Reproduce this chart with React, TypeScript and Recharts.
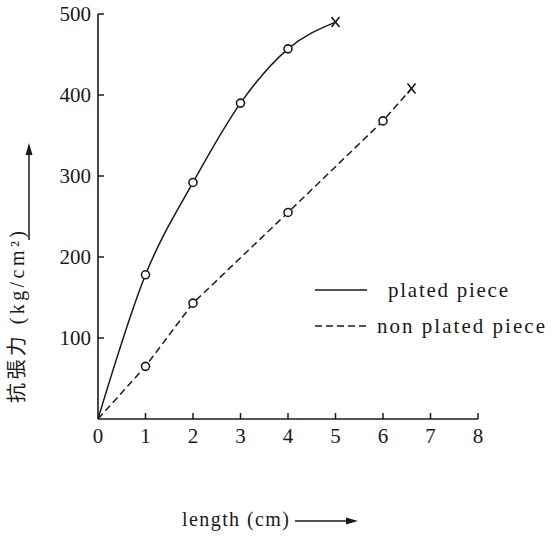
import { Legend, Line, LineChart, XAxis, YAxis } from "recharts"

// length (cm) vs tensile strength (kg/cm²)
const platedX = [0, 1, 2, 3, 4, 5]
const platedY = [0, 178, 292, 390, 457, 490]
const nonPlatedX = [0, 1, 2, 4, 6, 6.6]
const nonPlatedY = [0, 65, 143, 255, 368, 408]

const xTicks = [0, 1, 2, 3, 4, 5, 6, 7, 8]
const yTicks = [100, 200, 300, 400, 500]

const plated = platedX.map((x, i) => ({ x, y: platedY[i] }))
const nonPlated = nonPlatedX.map((x, i) => ({ x, y: nonPlatedY[i] }))

const INK = "#1a1a1a"
const serif = { fontFamily: "Liberation Serif" }
const cjk = { fontFamily: "Noto Sans CJK JP" }

function Marker(props: any) {
  const { cx, cy, index, points } = props
  const last = points ? points.length - 1 : -1
  if (index === 0 || cx == null) return <g key={index} />
  if (index === last) {
    return (
      <g key={index} stroke={INK} strokeWidth={1.6}>
        <line x1={cx - 4} y1={cy - 5} x2={cx + 4} y2={cy + 5} />
        <line x1={cx + 4} y1={cy - 5} x2={cx - 4} y2={cy + 5} />
      </g>
    )
  }
  return <circle key={index} cx={cx} cy={cy} r={4} fill="#fff" stroke={INK} strokeWidth={1.6} />
}

function YTick({ x, y, payload }: any) {
  return (
    <g>
      <line x1={x} y1={y} x2={x + 6} y2={y} stroke={INK} strokeWidth={1.5} />
      <text x={x - 7} y={y} dy="0.35em" textAnchor="end" fontSize={21} fill={INK} style={serif}>
        {payload.value}
      </text>
    </g>
  )
}

function XTick({ x, y, payload }: any) {
  return (
    <g>
      {payload.value > 0 && (
        <line x1={x} y1={y} x2={x} y2={y - 6} stroke={INK} strokeWidth={1.5} />
      )}
      <text x={x} y={y + 24} textAnchor="middle" fontSize={21} fill={INK} style={serif}>
        {payload.value}
      </text>
    </g>
  )
}

function YLabel() {
  return (
    <g>
      <text
        transform="translate(24, 317) rotate(-90)"
        textAnchor="middle"
        fontSize={20}
        fill={INK}
        textLength={172}
        lengthAdjust="spacing"
      >
        <tspan style={cjk}>抗張力</tspan>
        <tspan style={serif}> (kg/cm²)</tspan>
      </text>
      <line x1={29} y1={240} x2={29} y2={150} stroke={INK} strokeWidth={1.5} />
      <polygon points="29,143 25.5,155 32.5,155" fill={INK} />
    </g>
  )
}

function XLabel() {
  return (
    <g>
      <text x={182} y={526} fontSize={20} fill={INK} style={serif} textLength={107} lengthAdjust="spacing">
        length (cm)
      </text>
      <line x1={295} y1={521} x2={350} y2={521} stroke={INK} strokeWidth={1.5} />
      <polygon points="358,521 346,517.5 346,524.5" fill={INK} />
    </g>
  )
}

function LegendBox() {
  return (
    <svg width={240} height={60}>
      <line x1={5} y1={12} x2={57} y2={12} stroke={INK} strokeWidth={1.5} />
      <text x={78} y={12} dy="0.35em" fontSize={21} fill={INK} style={serif} textLength={120} lengthAdjust="spacing">
        plated  piece
      </text>
      <line x1={5} y1={48} x2={57} y2={48} stroke={INK} strokeWidth={1.5} strokeDasharray="7 4" />
      <text x={67} y={48} dy="0.35em" fontSize={21} fill={INK} style={serif} textLength={168} lengthAdjust="spacing">
        non plated  piece
      </text>
    </svg>
  )
}

export default function App() {
  return (
    <div style={{ position: "absolute", left: 0, top: 0, background: "#fff" }}>
      <LineChart width={557} height={549} margin={{ top: 14, right: 79, bottom: 0, left: 38 }}>
        <XAxis
          type="number"
          dataKey="x"
          domain={[0, 8]}
          ticks={xTicks}
          height={66}
          tickSize={0}
          tickMargin={0}
          tick={<XTick />}
          axisLine={{ stroke: INK, strokeWidth: 1.6 }}
          label={<XLabel />}
        />
        <YAxis
          type="number"
          dataKey="y"
          domain={[0, 500]}
          ticks={yTicks}
          width={60}
          tickSize={0}
          tickMargin={0}
          tick={<YTick />}
          axisLine={{ stroke: INK, strokeWidth: 1.6 }}
          label={<YLabel />}
        />
        <Legend
          content={<LegendBox />}
          wrapperStyle={{ position: "absolute", left: 310, top: 278, width: 240 }}
        />
        <Line
          data={plated}
          dataKey="y"
          type="monotone"
          stroke={INK}
          strokeWidth={1.5}
          dot={<Marker points={plated} />}
          activeDot={false}
          isAnimationActive={false}
        />
        <Line
          data={nonPlated}
          dataKey="y"
          type="linear"
          stroke={INK}
          strokeWidth={1.5}
          strokeDasharray="7 4"
          dot={<Marker points={nonPlated} />}
          activeDot={false}
          isAnimationActive={false}
        />
      </LineChart>
    </div>
  )
}
